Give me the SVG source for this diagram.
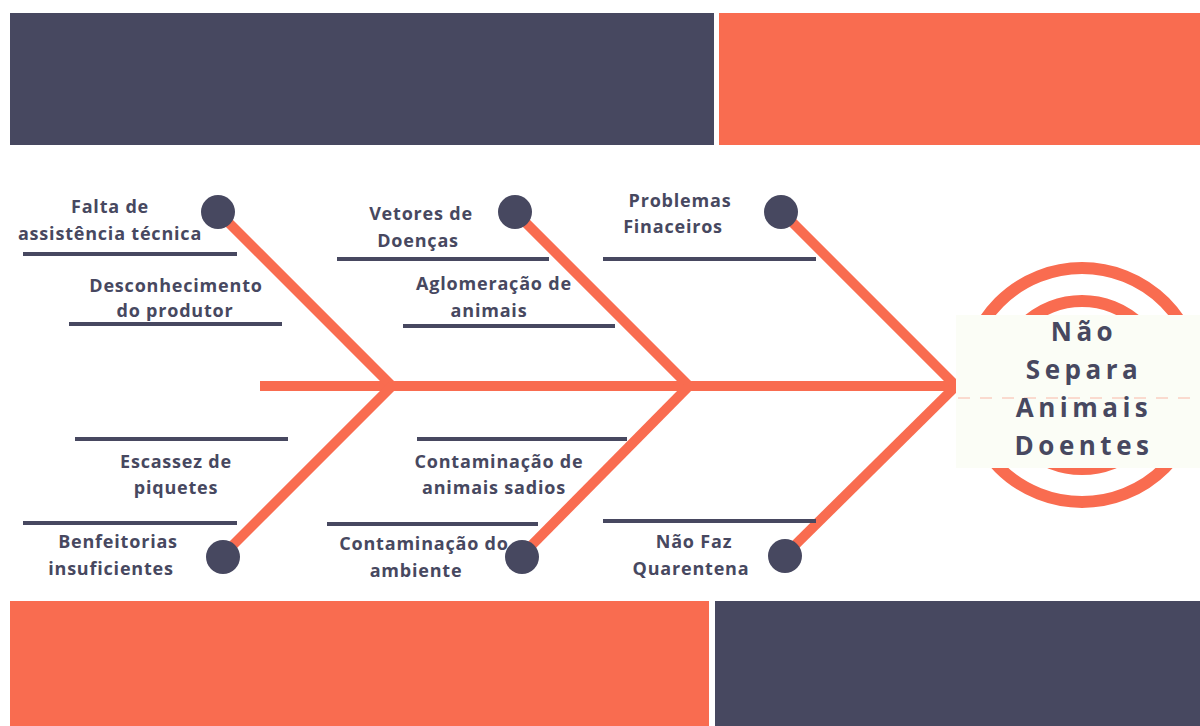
<svg xmlns="http://www.w3.org/2000/svg" width="1200" height="726" viewBox="0 0 1200 726">
  <style>
    .dark { fill: #474860; }
    .orange { fill: #F96C50; }
    .bone { stroke: #F96C50; stroke-width: 10; fill: none; stroke-linecap: butt; }
    .dot { fill: #474860; }
    .ul { stroke: #474860; stroke-width: 4; }
    .lbl { font-family: "Open Sans", "Liberation Sans", sans-serif; font-weight: 700; font-size: 18px; letter-spacing: 0.8px; fill: #474860; text-anchor: middle; }
    .head { font-family: "Open Sans", "Liberation Sans", sans-serif; font-weight: 700; font-size: 26px; fill: #474860; text-anchor: middle; letter-spacing: 4.5px; }
  </style>
  <rect width="1200" height="726" fill="#FFFFFF"/>
  <g id="banners">
    <rect class="dark" x="10" y="13" width="704" height="132"/>
    <rect class="orange" x="719" y="13" width="481" height="132"/>
    <rect class="orange" x="10" y="601" width="699" height="125"/>
    <rect class="dark" x="715" y="601" width="485" height="125"/>
  </g>
  <g id="connectors">
    <line class="bone" x1="260" y1="386" x2="955" y2="386"/>
    <line class="bone" x1="218" y1="212" x2="392" y2="386"/>
    <line class="bone" x1="222" y1="556" x2="392" y2="386"/>
    <line class="bone" x1="515" y1="212" x2="689" y2="386"/>
    <line class="bone" x1="521" y1="556" x2="689" y2="386"/>
    <line class="bone" x1="782" y1="212" x2="959" y2="389"/>
    <line class="bone" x1="784" y1="556" x2="959" y2="383"/>
  </g>
  <g id="head">
    <circle cx="1082" cy="385" r="117" fill="none" stroke="#F96C50" stroke-width="12"/>
    <circle cx="1082" cy="385" r="84" fill="none" stroke="#F96C50" stroke-width="12"/>
    <rect x="956" y="315" width="244" height="153" fill="#FBFDF6"/>
    <line x1="958" y1="398" x2="1200" y2="398" stroke="#F9B8A8" stroke-width="1" stroke-dasharray="12,10"/>
    <text class="head" x="1084" y="341">Não</text>
    <text class="head" x="1084" y="379">Separa</text>
    <text class="head" x="1084" y="417">Animais</text>
    <text class="head" x="1084" y="455">Doentes</text>
  </g>
  <g id="dots">
    <circle class="dot" cx="218" cy="212" r="17"/>
    <circle class="dot" cx="515" cy="212" r="17"/>
    <circle class="dot" cx="781" cy="212" r="17"/>
    <circle class="dot" cx="223" cy="557" r="17"/>
    <circle class="dot" cx="522" cy="557" r="17"/>
    <circle class="dot" cx="785" cy="556" r="17"/>
  </g>
  <g id="falta">
    <text class="lbl" x="110" y="213">Falta de</text>
    <text class="lbl" x="110" y="240">assistência técnica</text>
    <line class="ul" x1="23" y1="254" x2="237" y2="254"/>
  </g>
  <g id="desconhecimento">
    <text class="lbl" x="176" y="292">Desconhecimento</text>
    <text class="lbl" x="175" y="317">do produtor</text>
    <line class="ul" x1="69" y1="324" x2="282" y2="324"/>
  </g>
  <g id="vetores">
    <text class="lbl" x="421" y="220">Vetores de</text>
    <text class="lbl" x="418" y="247">Doenças</text>
    <line class="ul" x1="337" y1="259" x2="549" y2="259"/>
  </g>
  <g id="aglomeracao">
    <text class="lbl" x="494" y="290">Aglomeração de</text>
    <text class="lbl" x="489" y="317">animais</text>
    <line class="ul" x1="403" y1="326" x2="615" y2="326"/>
  </g>
  <g id="problemas">
    <text class="lbl" x="680" y="207">Problemas</text>
    <text class="lbl" x="673" y="233">Finaceiros</text>
    <line class="ul" x1="603" y1="259" x2="816" y2="259"/>
  </g>
  <g id="escassez">
    <line class="ul" x1="75" y1="439" x2="288" y2="439"/>
    <text class="lbl" x="176" y="468">Escassez de</text>
    <text class="lbl" x="176" y="494">piquetes</text>
  </g>
  <g id="benfeitorias">
    <line class="ul" x1="23" y1="523" x2="237" y2="523"/>
    <text class="lbl" x="118" y="548">Benfeitorias</text>
    <text class="lbl" x="111" y="575">insuficientes</text>
  </g>
  <g id="contaminacao-animais">
    <line class="ul" x1="417" y1="439" x2="627" y2="439"/>
    <text class="lbl" x="499" y="468">Contaminação de</text>
    <text class="lbl" x="494" y="494">animais sadios</text>
  </g>
  <g id="contaminacao-ambiente">
    <line class="ul" x1="327" y1="524" x2="538" y2="524"/>
    <text class="lbl" x="424" y="550">Contaminação do</text>
    <text class="lbl" x="416" y="577">ambiente</text>
  </g>
  <g id="quarentena">
    <line class="ul" x1="603" y1="521" x2="816" y2="521"/>
    <text class="lbl" x="694" y="548">Não Faz</text>
    <text class="lbl" x="691" y="575">Quarentena</text>
  </g>
</svg>
